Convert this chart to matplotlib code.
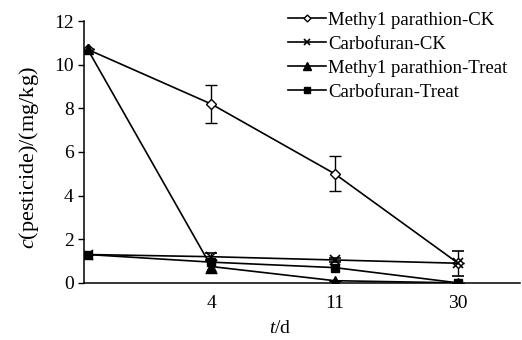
"""
    Pesticide degradation chart (c vs t).
"""

import matplotlib
matplotlib.use("Agg")
import matplotlib.pyplot as plt
from matplotlib.lines import Line2D

plt.rcParams['font.family'] = ['Liberation Serif', 'DejaVu Serif']
plt.rcParams['mathtext.fontset'] = 'custom'
plt.rcParams['mathtext.rm'] = 'Liberation Serif'
plt.rcParams['mathtext.it'] = 'Liberation Serif:italic'

days = ["0", "4", "11", "30"]
tick_labels = ["", "4", "11", "30"]

mp_ck = [10.7, 8.2, 5.0, 0.9]
mp_ck_err = [0, 0.87, 0.8, 0]
cf_ck = [1.3, 1.2, 1.05, 0.9]
cf_ck_err = [0, 0.15, 0.1, 0.57]
mp_treat = [10.7, 0.75, 0.1, 0.0]
mp_treat_err = [0, 0.3, 0, 0]
cf_treat = [1.3, 0.95, 0.7, 0.0]

names = ["Methy1 parathion-CK", "Carbofuran-CK", "Methy1 parathion-Treat", "Carbofuran-Treat"]

x = list(range(len(days)))

fig = plt.figure(figsize=(5.22, 3.4), dpi=100)
ax = fig.add_axes([0.161, 0.168, 0.835, 0.77])

common = dict(color="black", lw=1.2, capsize=4, elinewidth=1.0, capthick=1.0)
ax.errorbar(x, mp_ck, yerr=mp_ck_err, marker="D", ms=5, mfc="white", mec="black", **common)
ax.errorbar(x, cf_ck, yerr=cf_ck_err, marker="x", ms=7, mew=1.2, **common)
ax.errorbar(x, mp_treat, yerr=mp_treat_err, marker="^", ms=7, **common)
ax.errorbar(x, cf_treat, marker="s", ms=5.5, **common)

ax.set_xlim(-0.03, 3.5)
ax.set_ylim(0, 12)
ax.set_yticks([0, 2, 4, 6, 8, 10, 12])
ax.set_xticks(x)
ax.set_xticklabels(tick_labels)
ax.tick_params(axis="both", labelsize=14, direction="out", length=4, width=1)
ax.tick_params(axis="x", length=0, pad=9)
ax.spines["top"].set_visible(False)
ax.spines["right"].set_visible(False)
ax.spines["left"].set_linewidth(1.1)
ax.spines["bottom"].set_linewidth(1.1)

ax.set_ylabel(r"$\it{c}$(pesticide)/(mg/kg)", fontsize=16)
ax.yaxis.set_label_coords(-0.098, 0.477)
ax.set_xlabel(r"$\it{t}$/d", fontsize=14)
ax.xaxis.set_label_coords(0.45, -0.14)

# legend from plain line handles (no error bars in the legend)
handles = [
    Line2D([], [], color="black", lw=1.2, marker="D", ms=3.5, mfc="white", mec="black"),
    Line2D([], [], color="black", lw=1.2, marker="x", ms=5, mew=1.2),
    Line2D([], [], color="black", lw=1.2, marker="^", ms=5.5),
    Line2D([], [], color="black", lw=1.2, marker="s", ms=4),
]
ax.legend(handles, names, loc="upper left", bbox_to_anchor=(0.468, 1.035), frameon=False,
          fontsize=13.5, handlelength=2.0, handletextpad=0.15,
          labelspacing=0.36, borderaxespad=0, borderpad=0)

fig.savefig("out.png", dpi=100)
